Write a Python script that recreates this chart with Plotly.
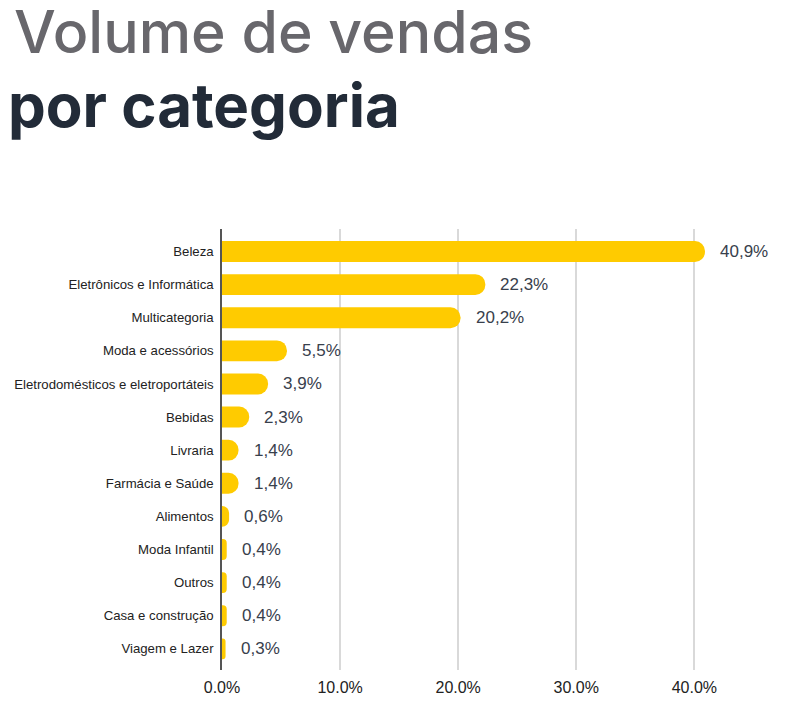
import plotly.graph_objects as go

categorias = ["Beleza", "Eletrônicos e Informática", "Multicategoria", "Moda e acessórios",
              "Eletrodomésticos e eletroportáteis", "Bebidas", "Livraria", "Farmácia e Saúde",
              "Alimentos", "Moda Infantil", "Outros", "Casa e construção", "Viagem e Lazer"]
valores = [40.9, 22.3, 20.2, 5.5, 3.9, 2.3, 1.4, 1.4, 0.6, 0.4, 0.4, 0.4, 0.3]
rotulos = ["40,9%", "22,3%", "20,2%", "5,5%", "3,9%", "2,3%", "1,4%", "1,4%",
           "0,6%", "0,4%", "0,4%", "0,4%", "0,3%"]
ticks = [0, 10, 20, 30, 40]

fig = go.Figure(go.Bar(
    x=valores,
    y=categorias,
    orientation='h',
    width=0.63,
    marker=dict(color='#FFCB00', cornerradius=10, line=dict(width=0)),
    hoverinfo='skip'
))

# value labels to the right of each bar
for cat, v, t in zip(categorias, valores, rotulos):
    fig.add_annotation(x=v, y=cat, text=t, showarrow=False, xanchor='left',
                       xshift=13, font=dict(family='Liberation Sans, Arial', size=17, color='#38404c'))

# two-line title
fig.add_annotation(xref='paper', yref='paper', x=-0.378, y=1.362, xanchor='left', yanchor='bottom',
                   text="Volume de vendas", showarrow=False,
                   font=dict(family='Inter', size=59, color='#68676c', weight=500))
fig.add_annotation(xref='paper', yref='paper', x=-0.389, y=1.196, xanchor='left', yanchor='bottom',
                   text="<b>por categoria</b>", showarrow=False,
                   font=dict(family='Inter', size=60, color='#222b38', weight=800))

fig.update_layout(
    width=785, height=713,
    margin=dict(l=214, r=16, t=221, b=51),
    plot_bgcolor='white', paper_bgcolor='white',
    showlegend=False,
)
fig.update_xaxes(range=[0, 47], tickvals=ticks, ticktext=[f"{t:.1f}%" for t in ticks],
                 showgrid=True, gridcolor='#d9d9d9', gridwidth=1.5, zeroline=False,
                 tickfont=dict(family='Liberation Sans, Arial', size=16, color='#222222'),
                 ticks='', showline=False, automargin=False, ticklabelstandoff=6)
fig.update_yaxes(range=[12.64, -0.68], showline=True, linecolor='#555555', linewidth=1.5,
                 ticks='', ticklabelstandoff=4, automargin=False,
                 tickfont=dict(family='Liberation Sans, Arial', size=13.2, color='#222222'))

fig.write_html("out.html")
